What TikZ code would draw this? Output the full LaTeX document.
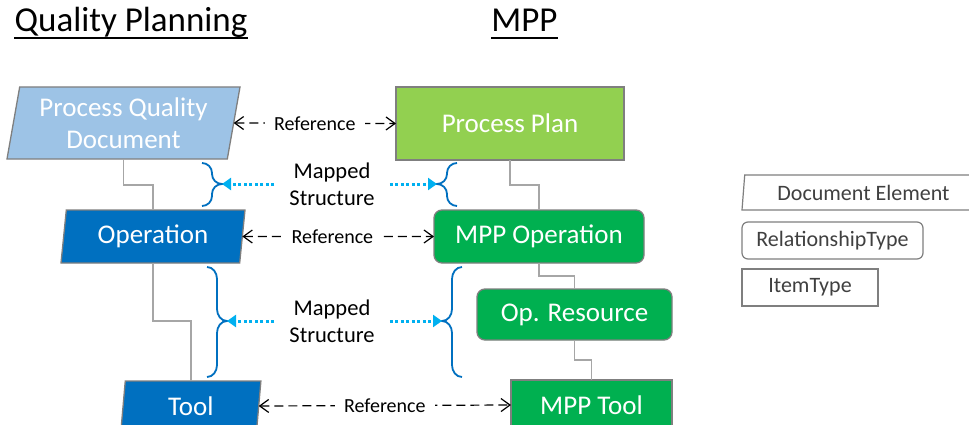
\documentclass[tikz,border=0pt]{standalone}
\usepackage{fontspec}
\setmainfont{Carlito}
\usetikzlibrary{arrows.meta,shapes.geometric}

\definecolor{docblue}{HTML}{9DC3E6}
\definecolor{opblue}{HTML}{0070C0}
\definecolor{planlime}{HTML}{92D050}
\definecolor{mppgreen}{HTML}{00B050}
\definecolor{edgegray}{HTML}{7F7F7F}
\definecolor{linkgray}{HTML}{A6A6A6}
\definecolor{bracecol}{HTML}{0070C0}
\definecolor{mapcol}{HTML}{00B0F0}
\definecolor{legendtext}{HTML}{404040}

\begin{document}
\begin{tikzpicture}[x=1pt, y=-1pt,
  box/.style={draw=edgegray, line width=1.3pt, text=white,
    font=\fontsize{27}{32}\selectfont, inner sep=0pt, outer sep=0pt},
  para/.style={box, trapezium, trapezium stretches body},
  rbox/.style={box, rectangle, rounded corners=8pt},
  sbox/.style={box, rectangle},
  link/.style={draw=linkgray, line width=1.3pt},
  refline/.style={line width=1.2pt, dash pattern=on 9pt off 5pt,
    arrows={Straight Barb[length=9pt,width=13pt]-Straight Barb[length=9pt,width=13pt]}},
  reflabel/.style={fill=white, inner xsep=9pt, inner ysep=2pt,
    font=\fontsize{20}{24}\selectfont},
  mlabel/.style={align=center, inner xsep=15pt, inner ysep=0pt,
    font=\fontsize{22.5}{27}\selectfont},
  maparrow/.style={draw=mapcol, line width=3pt, dash pattern=on 3pt off 2.5pt,
    arrows={-Triangle[length=9pt,width=12pt]}, shorten <=0pt},
  bracestyle/.style={draw=bracecol, line width=1.8pt},
  legend/.style={draw=edgegray, line width=1.2pt, fill=white, text=legendtext,
    font=\fontsize{22}{26}\selectfont, inner sep=0pt, outer sep=0pt},
  title/.style={anchor=base, inner sep=0pt, font=\fontsize{35}{40}\selectfont},
]
\clip (0,0) rectangle (969,425);
\fill[white] (0,0) rectangle (969,425);

% column headings
\node[title] (qp) at (131,31.7) {Quality Planning};
\node[title] (mpp) at (524.5,31.7) {MPP};
\draw[line width=2pt] ([yshift=-6.6pt]qp.base west) -- ([yshift=-6.6pt]qp.base east);
\draw[line width=2pt] ([yshift=-6.6pt]mpp.base west) -- ([yshift=-6.6pt]mpp.base east);

% quality planning side
\node[para, fill=docblue, align=center, minimum width=233pt, minimum height=72pt,
  trapezium left angle=76, trapezium right angle=104] (pqd) at (123.5,123)
  {Process Quality\\Document};
\node[para, fill=opblue, minimum width=184pt, minimum height=53pt,
  trapezium left angle=77, trapezium right angle=103] (op) at (153,236.5) {Operation};
\node[para, fill=opblue, minimum width=140pt, minimum height=50pt,
  trapezium left angle=77, trapezium right angle=103] (tool) at (190.9,406) {Tool};

% MPP side
\node[sbox, fill=planlime, minimum width=228pt, minimum height=73pt] (pp) at (510,123.5) {Process Plan};
\node[rbox, fill=mppgreen, minimum width=210pt, minimum height=53pt] (mppop) at (539,236.5) {MPP Operation};
\node[rbox, fill=mppgreen, minimum width=195pt, minimum height=51pt] (opres) at (574.5,314.5) {Op. Resource};
\node[sbox, fill=mppgreen, minimum width=161pt, minimum height=50pt] (mpptool) at (591.5,405) {MPP Tool};

% structure links
\draw[link] (pqd.south) -- ++(0,26) -| (op.north);
\draw[link] (op.south) -- ++(0,58) -| (tool.north);
\draw[link] (pp.south) -- ++(0,25) -| (mppop.north);
\draw[link] (mppop.south) -- ++(0,13) -| (opres.north);
\draw[link] (opres.south) -- ++(0,20) -| (mpptool.north);

% reference connectors
\draw[refline] (pqd.east) -- node[reflabel] (r1) {Reference} (pp.west);
\draw[refline] (op.east) -- node[reflabel, pos=0.47] (r2) {Reference} (mppop.west);
\draw[refline] (tool.east) -- node[reflabel] (r3) {Reference} (mpptool.west);

% mapped structure labels
\node[mlabel] (ms1) at (332,184) {Mapped\\Structure};
\node[mlabel] (ms2) at (332,321) {Mapped\\Structure};

% brace tips
\coordinate (bA) at (222,184);
\coordinate (bB) at (437,184);
\coordinate (bC) at (227,321);
\coordinate (bD) at (442,321);

% braces
\draw[bracestyle] (202,163) to[out=0,in=90] (212,173) -- (212,174)
  to[out=-90,in=180] (bA) to[out=180,in=90] (212,194) -- (212,196)
  to[out=-90,in=0] (202,206);
\draw[bracestyle] (457,163) to[out=180,in=90] (447,173) -- (447,174)
  to[out=-90,in=0] (bB) to[out=0,in=90] (447,194) -- (447,196)
  to[out=-90,in=180] (457,206);
\draw[bracestyle] (207,267) to[out=0,in=90] (217,279) -- (217,309)
  to[out=-90,in=180] (bC) to[out=180,in=90] (217,333) -- (217,365)
  to[out=-90,in=0] (207,377);
\draw[bracestyle] (462,267) to[out=180,in=90] (452,279) -- (452,309)
  to[out=-90,in=0] (bD) to[out=0,in=90] (452,333) -- (452,365)
  to[out=-90,in=180] (462,377);

% mapping arrows
\draw[maparrow] (ms1.west) -- (bA);
\draw[maparrow] (ms1.east) -- (bB);
\draw[maparrow] (ms2.west) -- (bC);
\draw[maparrow] (ms2.east) -- (bD);

% legend
\node[legend, trapezium, trapezium stretches body, minimum width=243pt, minimum height=35pt,
  trapezium left angle=80, trapezium right angle=100] (lgdoc) at (863.5,192.5) {Document Element};
\node[legend, rectangle, rounded corners=6pt, minimum width=181pt, minimum height=37pt]
  (lgrel) at (832.5,240.5) {RelationshipType};
\node[legend, rectangle, minimum width=136pt, minimum height=37pt]
  (lgitem) at (810,287.5) {ItemType};
\end{tikzpicture}
\end{document}
